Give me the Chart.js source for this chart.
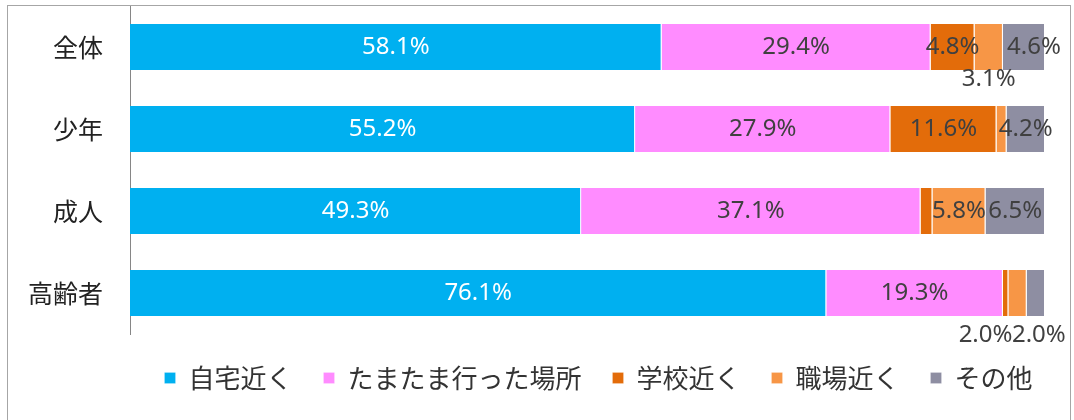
<!DOCTYPE html>
<html lang="ja">
<head>
<meta charset="UTF-8">
<title>発生場所の割合</title>
<script src="https://cdn.jsdelivr.net/npm/chart.js"></script>
<style>
    html, body { margin: 0; padding: 0; background: #fff; overflow: hidden; }
    .wrap { position: relative; width: 1074px; height: 420px; }
    .frame { position: absolute; left: 7px; top: 5px; width: 1062px; height: 440px; border: 1px solid #a6a6a6; pointer-events: none; }
    canvas { display: block; }
</style>
</head>
<body>
<div class="wrap">
    <canvas id="placeChart" width="1074" height="420"></canvas>
    <div class="frame"></div>
</div>
<script>
// --- Data ---
const categories = ['全体', '少年', '成人', '高齢者'];
const seriesNames = ['自宅近く', 'たまたま行った場所', '学校近く', '職場近く', 'その他'];
const homeNear = [58.1, 55.2, 49.3, 76.1];
const visitedPlace = [29.4, 27.9, 37.1, 19.3];
const schoolNear = [4.8, 11.6, 1.3, 0.6];
const workNear = [3.1, 1.1, 5.8, 2.0];
const otherPlace = [4.6, 4.2, 6.5, 2.0];

const seriesColors = ['#00b0f0', '#ff8cff', '#e36c0a', '#f79646', '#8e8ea2'];

// labels that don't fit inside their segment get nudged (dataset,index -> [dx, dy])
const labelShift = {
    '4,0': [10, 0],
    '3,0': [0, 32],
    '3,3': [-32, 42],
    '4,3': [3, 42]
};

const segmentLabels = {
    id: 'segmentLabels',
    afterLayout: (chart) => {
        // legend sits a bit right of centre in the original
        chart.legend.left += 76;
        chart.legend.right += 76;
    },
    afterDatasetsDraw: (chart) => {
        const ctx = chart.ctx;
        ctx.save();
        ctx.font = '24px "Noto Sans"';
        ctx.textAlign = 'center';
        ctx.textBaseline = 'middle';
        chart.data.datasets.forEach((ds, di) => {
            chart.getDatasetMeta(di).data.forEach((bar, i) => {
                const v = ds.data[i];
                if (v < 1.5) return; // too thin, no label
                const off = labelShift[di + ',' + i] || [0, 0];
                const { x, y } = bar.getCenterPoint();
                ctx.fillStyle = di === 0 ? '#ffffff' : '#404040';
                ctx.fillText(v.toFixed(1) + '%', x + off[0], y + off[1]);
            });
        });
        ctx.restore();
    }
};

const seriesData = [homeNear, visitedPlace, schoolNear, workNear, otherPlace];

new Chart(document.getElementById('placeChart').getContext('2d'), {
    type: 'bar',
    data: {
        labels: categories,
        datasets: seriesNames.map((name, i) => ({
            label: name,
            data: seriesData[i],
            backgroundColor: seriesColors[i],
            borderColor: 'rgba(255,255,255,0.75)',
            borderWidth: { top: 0, bottom: 0, left: 0, right: 1 },
            barPercentage: 0.56,
            categoryPercentage: 1
        }))
    },
    options: {
        indexAxis: 'y',
        responsive: false,
        animation: false,
        layout: { padding: { top: 6, right: 29, bottom: 19, left: 0 } },
        plugins: {
            tooltip: { enabled: false },
            legend: {
                position: 'bottom',
                labels: {
                    font: { family: '"Noto Sans CJK JP"', size: 26 },
                    color: '#333333',
                    boxWidth: 11,
                    boxHeight: 11,
                    padding: 31
                }
            }
        },
        scales: {
            x: {
                stacked: true,
                min: 0,
                max: 100,
                display: false
            },
            y: {
                stacked: true,
                afterFit: (scale) => {
                    scale.width = 130;
                    scale.paddingTop = 0;
                    scale.paddingBottom = 0;
                },
                grid: { display: false, drawTicks: false },
                border: { display: true, color: '#868686', width: 1 },
                ticks: {
                    padding: 27,
                    color: '#222222',
                    font: { family: '"Noto Sans CJK JP"', size: 25 }
                }
            }
        }
    },
    plugins: [segmentLabels]
});
</script>
</body>
</html>
